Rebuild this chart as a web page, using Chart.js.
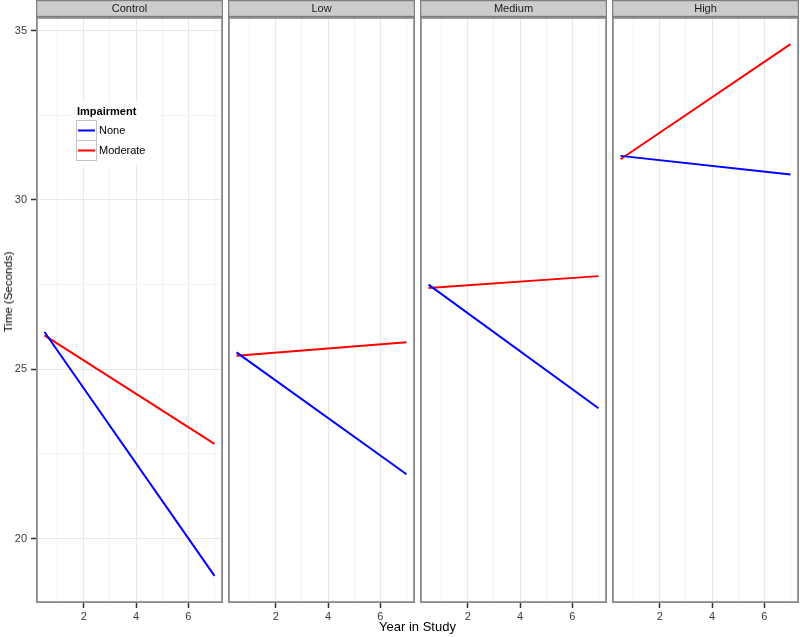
<!DOCTYPE html>
<html>
<head>
<meta charset="utf-8">
<script src="https://cdn.jsdelivr.net/npm/chart.js@4.4.0/dist/chart.umd.min.js"></script>
<style>
  body { margin: 0; background: #fff; }
  #wrap { position: relative; width: 800px; height: 637px; overflow: hidden; }
  #wrap canvas { position: absolute; top: 0; }
  #xtitle { position: absolute; left: 36px; width: 763px; top: 619px; text-align: center;
    font: 13px "Liberation Sans", Arial, sans-serif; color: #000; }
  #ytitle { position: absolute; left: 8px; top: 292px; transform: translate(-50%, -50%) rotate(-90deg);
    white-space: nowrap; font: 11.5px "Liberation Sans", Arial, sans-serif; color: #000; }
</style>
</head>
<body>
<div id="wrap">
  <canvas id="c0"></canvas>
  <canvas id="c1"></canvas>
  <canvas id="c2"></canvas>
  <canvas id="c3"></canvas>
  <div id="xtitle">Year in Study</div>
  <div id="ytitle">Time (Seconds)</div>
</div>
<script>
// facets and series
const panels = ["Control", "Low", "Medium", "High"];
const years = [0.5, 7];
const noneTime = [[26.1, 18.9], [25.5, 21.9], [27.5, 23.85], [31.3, 30.75]];
const moderateTime = [[26.0, 22.8], [25.4, 25.8], [27.4, 27.75], [31.2, 34.6]];
const seriesNames = ["None", "Moderate"];
const legendTitle = "Impairment";

// ticks and gridlines
const xTicks = [2, 4, 6];
const xGrid = [1, 2, 3, 4, 5, 6, 7];
const yTicks = [20, 25, 30, 35];
const yGrid = [20, 22.5, 25, 27.5, 30, 32.5, 35];
const xMin = 0.175, xMax = 7.325;
const yMin = 18.1, yMax = 35.4;

Chart.defaults.font.family = '"Liberation Sans", Arial, sans-serif';
Chart.defaults.animation = false;

const panelW = 187, gap = 5, axisW = 36, stripH = 17, canvasH = 626, plotBottom = 603;
const major = "#e8e8e8", minor = "#f3f3f3", tickCol = "#333333", labelCol = "#3a3a3a";

const panelDeco = {
  id: "panelDeco",
  afterDraw(chart, args, opts) {
    const { ctx, chartArea: a } = chart;
    ctx.save();
    // strip
    ctx.fillStyle = "#cccccc";
    ctx.fillRect(a.left, 0, a.right - a.left, stripH - 0.5);
    ctx.strokeStyle = "#7f7f7f";
    ctx.lineWidth = 1.2;
    ctx.strokeRect(a.left + 0.6, 0.6, a.right - a.left - 1.2, stripH - 1.2);
    ctx.fillStyle = "#1a1a1a";
    ctx.font = '11px "Liberation Sans", Arial, sans-serif';
    ctx.textAlign = "center";
    ctx.textBaseline = "middle";
    ctx.fillText(opts.label, (a.left + a.right) / 2, stripH / 2 + 0.5);
    // panel border
    ctx.lineWidth = 1.8;
    ctx.strokeStyle = "#8a8a8a";
    ctx.strokeRect(a.left + 0.9, a.top + 0.9, a.right - a.left - 1.8, a.bottom - a.top - 1.8);
    // legend inside first panel
    if (opts.legend) {
      const x0 = 76, y0 = 120, k = 20;
      ctx.fillStyle = "#fff";
      ctx.fillRect(72, 102, 88, 63);
      ctx.fillStyle = "#000";
      ctx.textAlign = "left";
      ctx.font = 'bold 11px "Liberation Sans", Arial, sans-serif';
      ctx.fillText(legendTitle, x0 + 1, 112);
      ctx.font = '11px "Liberation Sans", Arial, sans-serif';
      chart.data.datasets.forEach((ds, i) => {
        const y = y0 + i * k;
        ctx.strokeStyle = "#c4c4c4";
        ctx.lineWidth = 1;
        ctx.strokeRect(x0 + 0.5, y + 0.5, k, k);
        ctx.strokeStyle = ds.borderColor;
        ctx.lineWidth = 2;
        ctx.beginPath();
        ctx.moveTo(x0 + 2, y + k / 2 + 0.5);
        ctx.lineTo(x0 + k - 1, y + k / 2 + 0.5);
        ctx.stroke();
        ctx.fillStyle = "#000";
        ctx.fillText(ds.label, x0 + k + 3, y + k / 2 + 1);
      });
    }
    ctx.restore();
  }
};

panels.forEach((name, i) => {
  const first = i === 0;
  const canvas = document.getElementById("c" + i);
  const left = axisW + i * (panelW + gap);
  const w = first ? axisW + panelW : panelW;
  canvas.width = w;
  canvas.height = canvasH;
  canvas.style.left = (first ? 0 : left) + "px";

  new Chart(canvas, {
    type: "line",
    data: {
      datasets: [
        { label: seriesNames[0], data: years.map((x, j) => ({ x, y: noneTime[i][j] })),
          borderColor: "#0000ff", borderWidth: 2, pointRadius: 0, fill: false },
        { label: seriesNames[1], data: years.map((x, j) => ({ x, y: moderateTime[i][j] })),
          borderColor: "#ff0000", borderWidth: 2, pointRadius: 0, fill: false }
      ]
    },
    options: {
      responsive: false,
      layout: { padding: { top: stripH, left: 0, right: 0, bottom: 0 } },
      plugins: {
        legend: { display: false },
        tooltip: { enabled: false },
        panelDeco: { label: name, legend: first }
      },
      scales: {
        x: {
          type: "linear", min: xMin, max: xMax, bounds: "data",
          afterBuildTicks: s => { s.ticks = xGrid.map(v => ({ value: v })); },
          afterFit: s => { s.height = canvasH - plotBottom; s.paddingLeft = 0; s.paddingRight = 0; },
          ticks: {
            autoSkip: false, maxRotation: 0, padding: 2, color: labelCol, font: { size: 11 },
            callback: v => xTicks.includes(v) ? String(v) : ""
          },
          grid: {
            color: c => c.tick && xTicks.includes(c.tick.value) ? major : minor,
            tickColor: c => c.tick && xTicks.includes(c.tick.value) ? tickCol : "rgba(0,0,0,0)",
            tickLength: 5, tickWidth: 1.5, lineWidth: 1
          },
          border: { display: false }
        },
        y: {
          display: first, min: yMin, max: yMax, bounds: "data",
          afterBuildTicks: s => { s.ticks = yGrid.map(v => ({ value: v })); },
          afterFit: s => { s.width = first ? axisW : 0; s.paddingTop = 0; s.paddingBottom = 0; },
          ticks: {
            autoSkip: false, padding: 4, color: labelCol, font: { size: 11 },
            callback: v => yTicks.includes(v) ? String(v) : ""
          },
          grid: {
            color: c => c.tick && yTicks.includes(c.tick.value) ? major : minor,
            tickColor: c => c.tick && yTicks.includes(c.tick.value) ? tickCol : "rgba(0,0,0,0)",
            tickLength: 5, tickWidth: 1.5, lineWidth: 1
          },
          border: { display: false }
        }
      }
    },
    plugins: [panelDeco]
  });
});
</script>
</body>
</html>
